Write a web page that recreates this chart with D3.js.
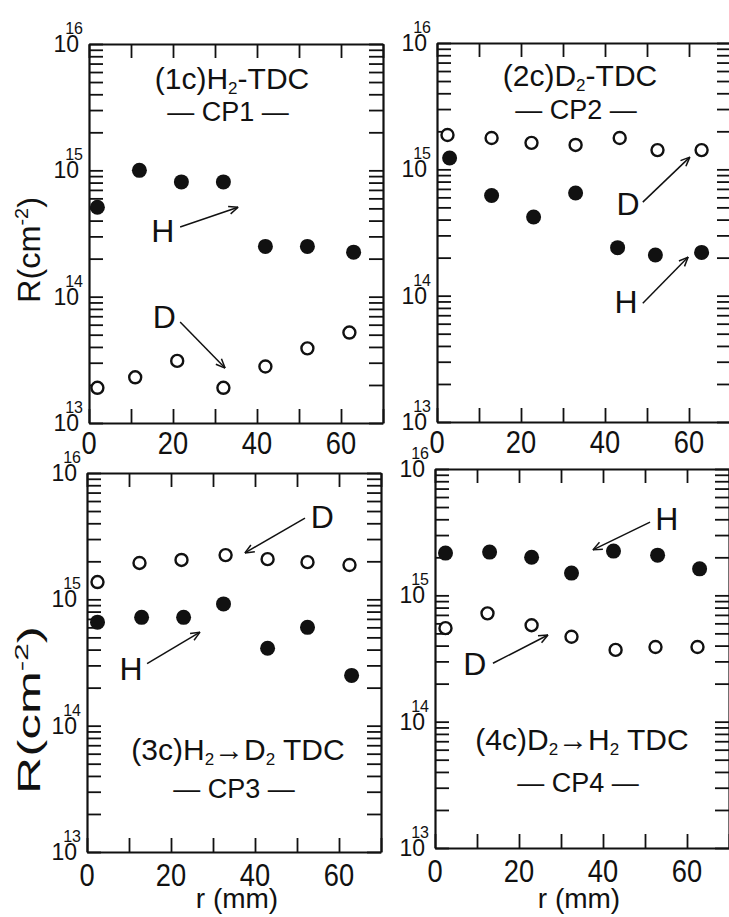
<!DOCTYPE html>
<html>
<head>
<meta charset="utf-8">
<script src="https://cdn.jsdelivr.net/npm/d3@7"></script>
<style>
  body { margin: 0; background: #fff; }
  text { font-family: "Liberation Sans Narrow", "Liberation Sans", sans-serif; fill: #111; }
</style>
</head>
<body>
<script>
"use strict";
// radial positions (mm) and densities R (cm^-2)
const r1H = [2, 12, 22, 32, 42, 52, 63]
const h1 = [5.1e14, 1.0e15, 8.1e14, 8.1e14, 2.5e14, 2.5e14, 2.25e14]
const r1D = [2, 11, 21, 32, 42, 52, 62]
const d1 = [1.9e13, 2.3e13, 3.1e13, 1.9e13, 2.8e13, 3.9e13, 5.2e13]

const r2H = [3, 13, 23, 33, 43, 52, 63]
const h2 = [1.23e15, 6.2e14, 4.2e14, 6.5e14, 2.4e14, 2.1e14, 2.2e14]
const r2D = [2.5, 13, 22.5, 33, 43.5, 52.5, 63]
const d2 = [1.87e15, 1.77e15, 1.62e15, 1.56e15, 1.77e15, 1.42e15, 1.42e15]

const r3H = [2.5, 13, 23, 32.5, 43, 52.5, 63]
const h3 = [6.6e14, 7.2e14, 7.2e14, 9.2e14, 4.1e14, 6.0e14, 2.5e14]
const r3D = [2.5, 12.5, 22.5, 33, 43, 52.5, 62.5]
const d3v = [1.37e15, 1.94e15, 2.05e15, 2.24e15, 2.08e15, 1.97e15, 1.87e15]

const r4H = [2.5, 13, 23, 32.5, 42.5, 53, 63]
const h4 = [2.16e15, 2.2e15, 2.0e15, 1.5e15, 2.24e15, 2.08e15, 1.62e15]
const r4D = [2.5, 12.5, 23, 32.5, 43, 52.5, 62.5]
const d4 = [5.5e14, 7.2e14, 5.8e14, 4.7e14, 3.7e14, 3.9e14, 3.9e14]

// axis ticks
const xTicks = [0, 10, 20, 30, 40, 50, 60, 70]
const xLabels = [0, 20, 40, 60]
const yDecades = [13, 14, 15, 16]

// titles: [text, subscript?]
const titles = [
    [["(1c)H", 0], ["2", 1], ["-TDC", 0]],
    [["(2c)D", 0], ["2", 1], ["-TDC", 0]],
    [["(3c)H", 0], ["2", 1], ["\u2192D", 0], ["2", 1], [" TDC", 0]],
    [["(4c)D", 0], ["2", 1], ["\u2192H", 0], ["2", 1], [" TDC", 0]]
]
const subtitles = ["\u2014 CP1 \u2014", "\u2014 CP2 \u2014", "\u2014 CP3 \u2014", "\u2014 CP4 \u2014"]

// annotation labels: [letter, r, R] and arrows [r0, R0, r1, R1]
const notes = [
    [["H", 17.6, 2.7e14, 21.7, 3.56e14, 35.5, 5.1e14], ["D", 17.9, 5.7e13, 21.7, 6.3e13, 32.4, 2.72e13]],
    [["D", 45.5, 4.35e14, 49, 5.5e14, 60.2, 1.25e15], ["H", 45, 7.3e13, 49, 8.7e13, 59.8, 2.02e14]],
    [["D", 56, 3.67e15, 51.9, 4.4e15, 37.6, 2.33e15], ["H", 10.5, 2.3e14, 14.3, 3.1e14, 26.9, 5.5e14]],
    [["H", 55.2, 3.3e15, 51.2, 3.8e15, 37.6, 2.29e15], ["D", 9.5, 2.34e14, 13.8, 2.9e14, 26.9, 4.85e14]]
]

const measurements = { width: 729, height: 917, plotW: 294, plotH: 379 }
const layout = [
    { left: 89, top: 44, tx: 143, ty: 45, sy: 77 },
    { left: 437, top: 43, tx: 143, ty: 43, sy: 76 },
    { left: 87, top: 473, tx: 151, ty: 287, sy: 325 },
    { left: 435, top: 469, tx: 147, ty: 281, sy: 323 }
]
const seriesH = [[r1H, h1], [r2H, h2], [r3H, h3], [r4H, h4]]
const seriesD = [[r1D, d1], [r2D, d2], [r3D, d3v], [r4D, d4]]

const svg = d3.select("body").append("svg")
    .attr("width", measurements.width)
    .attr("height", measurements.height)

layout.forEach((p, i) => drawPanel(p, i))

// y axis titles
const yTitles = [{ cy: 250, len: 106 }, { cy: 710, len: 168 }]
yTitles.forEach(t => {
    const g = svg.append("text")
        .attr("transform", "translate(40," + t.cy + ") rotate(-90)")
        .attr("text-anchor", "middle")
        .attr("font-size", 31)
        .attr("textLength", t.len)
        .attr("lengthAdjust", "spacingAndGlyphs")
    g.append("tspan").text("R(cm")
    g.append("tspan").attr("font-size", 19).attr("dy", -12).text("-2")
    g.append("tspan").attr("dy", 12).text(")")
})

// x axis titles
const xTitles = [{ cx: 237 }, { cx: 579 }]
xTitles.forEach(t => {
    svg.append("text")
        .attr("x", t.cx)
        .attr("y", 908)
        .attr("text-anchor", "middle")
        .attr("font-size", 28)
        .text("r (mm)")
})

function drawPanel(p, i) {
    const x = d3.scaleLinear().domain([0, 70]).range([p.left, p.left + measurements.plotW])
    const y = d3.scaleLog().domain([1e13, 1e16]).range([p.top + measurements.plotH, p.top])
    const yTickVals = []
    for (let e = 13; e < 16; e++) {
        for (let m = 1; m < 10; m++) yTickVals.push(m * Math.pow(10, e))
    }
    yTickVals.push(1e16)

    const tick = 14
    const axes = [
        [d3.axisBottom(x).tickValues(xTicks), "translate(0," + (p.top + measurements.plotH) + ")"],
        [d3.axisTop(x).tickValues(xTicks), "translate(0," + p.top + ")"],
        [d3.axisLeft(y).tickValues(yTickVals), "translate(" + p.left + ",0)"],
        [d3.axisRight(y).tickValues(yTickVals), "translate(" + (p.left + measurements.plotW) + ",0)"]
    ]
    axes.forEach(a => {
        const g = svg.append("g")
            .attr("transform", a[1])
            .call(a[0].tickSize(-tick).tickSizeOuter(0).tickFormat(""))
        g.select(".domain").attr("stroke", "#111").attr("stroke-width", 2.2)
        g.selectAll(".tick line").attr("stroke", "#111").attr("stroke-width", 1.8)
    })

    // y tick labels 10^n
    yDecades.forEach(e => {
        const yy = y(Math.pow(10, e))
        svg.append("text")
            .attr("x", p.left - 10)
            .attr("y", yy + 8)
            .attr("text-anchor", "end")
            .attr("font-size", 23)
            .text("10")
        svg.append("text")
            .attr("x", p.left - 6)
            .attr("y", yy - 10)
            .attr("text-anchor", "end")
            .attr("font-size", 16)
            .text(e)
    })

    // x tick labels
    const labY = i < 2 ? p.top + measurements.plotH + 31 : p.top + measurements.plotH + 34
    xLabels.forEach(v => {
        svg.append("text")
            .attr("transform", "translate(" + x(v) + "," + labY + ") scale(0.88,1)")
            .attr("text-anchor", "middle")
            .attr("font-size", 31)
            .text(v)
    })

    // title
    const t = svg.append("text")
        .attr("x", p.left + p.tx)
        .attr("y", p.top + p.ty)
        .attr("text-anchor", "middle")
        .attr("font-size", 30)
    titles[i].forEach((part, k) => {
        if (part[1]) {
            t.append("tspan").attr("font-size", 17).attr("dy", 5).text(part[0])
        } else {
            const s = t.append("tspan").text(part[0])
            if (k > 0) s.attr("dy", -5)
        }
    })
    svg.append("text")
        .attr("x", p.left + p.tx - 4)
        .attr("y", p.top + p.sy)
        .attr("text-anchor", "middle")
        .attr("font-size", 27)
        .attr("xml:space", "preserve")
        .text(subtitles[i])

    // data points
    const hd = d3.zip(seriesH[i][0], seriesH[i][1])
    const dd = d3.zip(seriesD[i][0], seriesD[i][1])
    svg.append("g").selectAll("circle")
        .data(dd)
        .enter()
        .append("circle")
        .attr("cx", d => x(d[0]))
        .attr("cy", d => y(d[1]))
        .attr("r", 6)
        .attr("fill", "#fff")
        .attr("stroke", "#111")
        .attr("stroke-width", 2.4)
    svg.append("g").selectAll("circle")
        .data(hd)
        .enter()
        .append("circle")
        .attr("cx", d => x(d[0]))
        .attr("cy", d => y(d[1]))
        .attr("r", 7.5)
        .attr("fill", "#111")

    // annotations
    notes[i].forEach(n => {
        svg.append("text")
            .attr("x", x(n[1]))
            .attr("y", y(n[2]))
            .attr("text-anchor", "middle")
            .attr("font-size", 32)
            .text(n[0])
        const x0 = x(n[3]), y0 = y(n[4]), x1 = x(n[5]), y1 = y(n[6])
        svg.append("line")
            .attr("x1", x0).attr("y1", y0).attr("x2", x1).attr("y2", y1)
            .attr("stroke", "#111").attr("stroke-width", 1.5)
        const ang = Math.atan2(y1 - y0, x1 - x0)
        const head = [ang + Math.PI - 0.4, ang + Math.PI + 0.4]
        head.forEach(h => {
            svg.append("line")
                .attr("x1", x1).attr("y1", y1)
                .attr("x2", x1 + 10 * Math.cos(h)).attr("y2", y1 + 10 * Math.sin(h))
                .attr("stroke", "#111").attr("stroke-width", 1.5)
        })
    })
}
</script>
</body>
</html>
